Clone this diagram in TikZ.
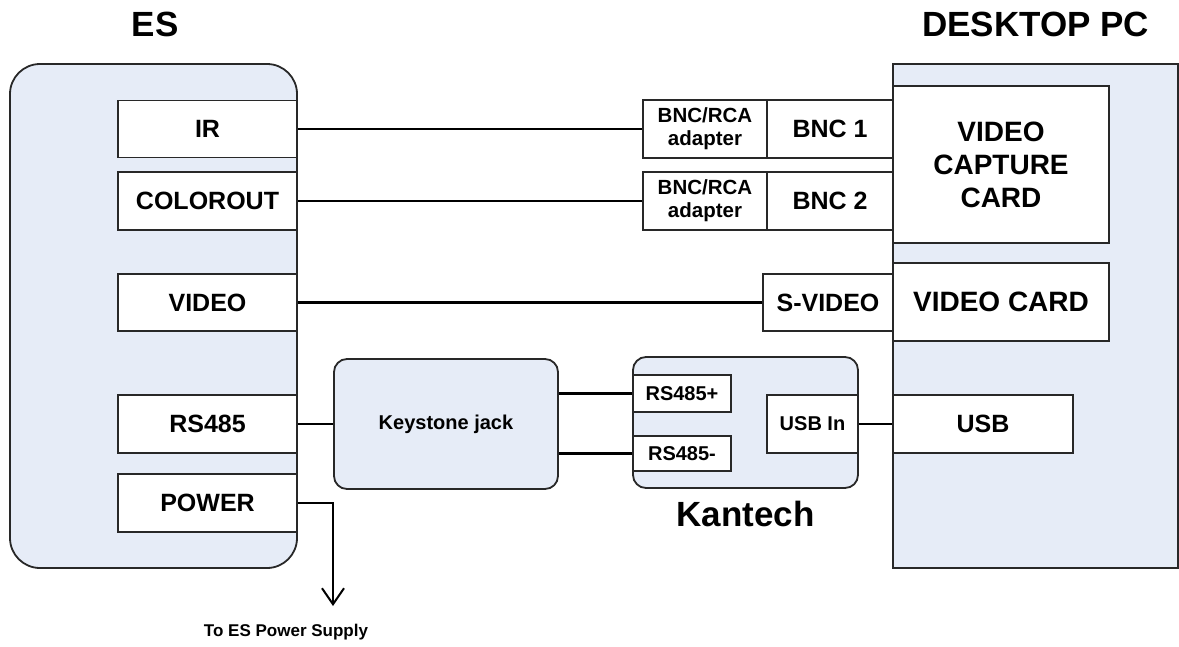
\documentclass[tikz,border=0pt]{standalone}
\usepackage{fontspec}
\setmainfont{Liberation Sans}
\usetikzlibrary{arrows.meta}

\definecolor{boxblue}{RGB}{230,236,247}
\definecolor{edgegray}{RGB}{40,40,40}

\tikzset{
	unit/.style={draw=edgegray, line width=1.8pt, fill=boxblue},
	port/.style={draw=edgegray, line width=1.8pt, fill=white, inner sep=0pt,
		font=\fontsize{25}{29}\selectfont\bfseries},
	smallport/.style={port, font=\fontsize{20.5}{23}\selectfont\bfseries, align=center},
	card/.style={port, font=\fontsize{28}{33}\selectfont\bfseries, align=center},
	title/.style={font=\fontsize{35}{40}\selectfont\bfseries},
	wire/.style={line width=2.2pt, black}
}

\begin{document}
\begin{tikzpicture}[x=1pt, y=-1pt, line join=miter]

	\useasboundingbox (0,0) rectangle (1179,646);

	% the two machines
	\node[unit, rounded corners=30pt, minimum width=287pt, minimum height=504pt]
		(es) at (153.5,316) {};
	\node[unit, minimum width=285pt, minimum height=504pt]
		(pc) at (1035.5,316) {};
	\node[title] (estitle) at (155,24) {ES};
	\node[title] (pctitle) at (1035.5,24) {DESKTOP PC};

	% ES outputs
	\node[port, minimum width=179pt, minimum height=57pt] (ir) at (207.5,129) {IR};
	\node[port, minimum width=179pt, minimum height=58pt] (colorout) at (207.5,201) {COLOROUT};
	\node[port, minimum width=179pt, minimum height=57pt] (video) at (207.5,302.5) {VIDEO};
	\node[port, minimum width=179pt, minimum height=58pt] (rs) at (207.5,424) {RS485};
	\node[port, minimum width=179pt, minimum height=58pt] (power) at (207.5,503) {POWER};

	% PC cards
	\node[card, minimum width=216pt, minimum height=157pt] (capture) at (1001,164.5)
		{VIDEO\\CAPTURE\\CARD};
	\node[card, minimum width=216pt, minimum height=78pt] (vcard) at (1001,302) {VIDEO CARD};
	\node[port, minimum width=180pt, minimum height=58pt] (usb) at (983,424) {USB};

	% adapters and BNC inputs
	\node[smallport, minimum width=124pt, minimum height=58pt] (adA) at (705,129)
		{BNC/RCA\\adapter};
	\node[port, minimum width=126pt, minimum height=58pt] (bncA) at (830,129) {BNC 1};
	\node[smallport, minimum width=124pt, minimum height=58pt] (adB) at (705,201)
		{BNC/RCA\\adapter};
	\node[port, minimum width=126pt, minimum height=58pt] (bncB) at (830,201) {BNC 2};
	\node[port, minimum width=130pt, minimum height=57pt] (svideo) at (828,302.5) {S-VIDEO};

	% keystone and kantech
	\node[unit, rounded corners=13pt, minimum width=224pt, minimum height=130pt,
		font=\fontsize{20}{24}\selectfont\bfseries] (keystone) at (446,424) {Keystone jack};
	\node[unit, rounded corners=13pt, minimum width=225pt, minimum height=131pt]
		(kantech) at (745.5,422.5) {};
	\node[title] (kantechtitle) at (745.5,514) {Kantech};
	\node[smallport, font=\fontsize{20}{24}\selectfont\bfseries,
		minimum width=98pt, minimum height=37pt] (rsplus) at (682,393.5) {RS485+};
	\node[smallport, font=\fontsize{20}{24}\selectfont\bfseries,
		minimum width=98pt, minimum height=35pt] (rsminus) at (682,453.5) {RS485-};
	\node[smallport, font=\fontsize{20}{24}\selectfont\bfseries,
		minimum width=91pt, minimum height=58pt] (usbin) at (812.5,424) {USB In};

	% wiring
	\draw[wire] (ir.east) -- (adA.west);
	\draw[wire] (colorout.east) -- (adB.west);
	\draw[wire] (video.east) -- (svideo.west);
	\draw[wire] (rs.east) -- (keystone.west);
	\draw[wire] (keystone.east |- rsplus.west) -- (rsplus.west);
	\draw[wire] (keystone.east |- rsminus.west) -- (rsminus.west);
	\draw[wire] (usbin.east) -- (usb.west);

	\coordinate (psu) at (333,606);
	\draw[wire, -{Straight Barb[length=16pt, width=22pt, line width=2pt]}]
		(power.east) -| (psu);
	\node[font=\fontsize{17}{20}\selectfont\bfseries] (psutext) at (286,632)
		{To ES Power Supply};

\end{tikzpicture}
\end{document}
